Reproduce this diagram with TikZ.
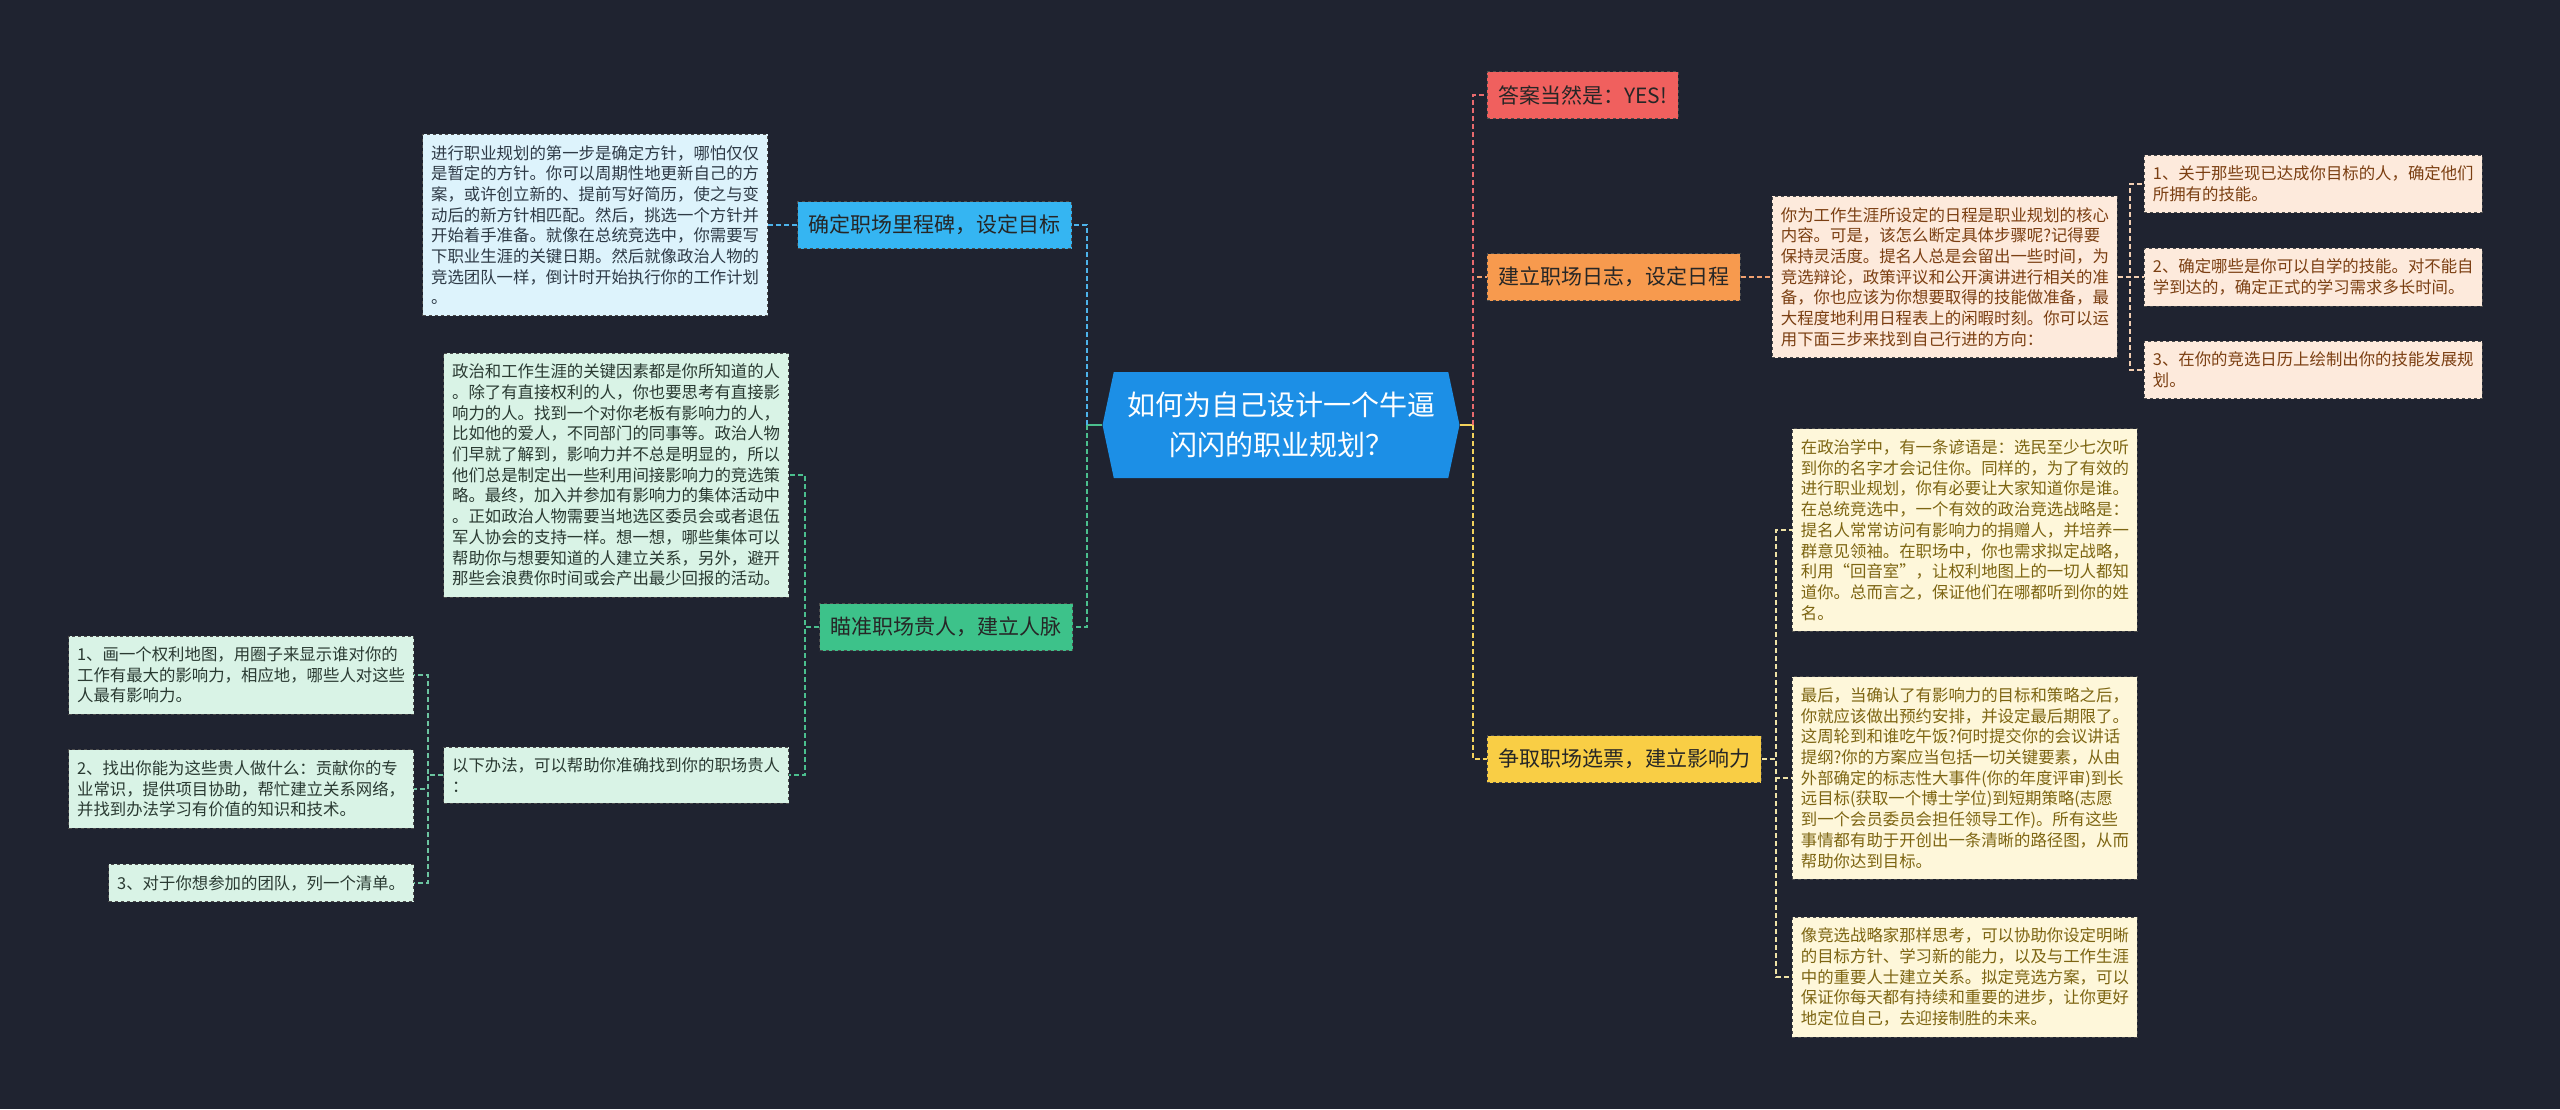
\documentclass[tikz,border=0pt]{standalone}
\usepackage{fontspec}
\setmainfont{Noto Sans CJK SC}
\usetikzlibrary{shapes.symbols}

\definecolor{bg}{HTML}{1F2330}
\definecolor{rootblue}{HTML}{1C8FE6}
\definecolor{tblue}{HTML}{35B5F2}
\definecolor{tgreen}{HTML}{3DC28A}
\definecolor{tred}{HTML}{F0605E}
\definecolor{torange}{HTML}{F79A4E}
\definecolor{tyellow}{HTML}{F9CE45}
\definecolor{nblue}{HTML}{DDF3FC}
\definecolor{ngreen}{HTML}{D9F3E6}
\definecolor{norange}{HTML}{FDEADC}
\definecolor{nyellow}{HTML}{FEF7DA}
\definecolor{txblue}{HTML}{2E3A46}
\definecolor{txgreen}{HTML}{2A3A32}
\definecolor{txorange}{HTML}{7B3F12}
\definecolor{txyellow}{HTML}{7D6512}
\definecolor{lblue}{HTML}{4DB3EA}
\definecolor{lgreen}{HTML}{4BBF8E}
\definecolor{lteal}{HTML}{6CC4A0}
\definecolor{lred}{HTML}{E86A6E}
\definecolor{lorange}{HTML}{F0A070}
\definecolor{lpeach}{HTML}{F3CFB2}
\definecolor{lyellow}{HTML}{F2D25C}
\definecolor{lpale}{HTML}{EEE2A6}

\begin{document}
\begin{tikzpicture}
	[x=1pt, y=-1pt,
	root/.style ={signal, signal to=west and east, signal pointer angle=156, fill=rootblue, text=white, minimum width=357pt, minimum height=106pt, align=center, font=\fontsize{28}{40}\selectfont},
	topic/.style ={rectangle, draw=black!70, dashed, line width=0.8pt, minimum height=47pt, inner xsep=11pt, text=black!85, font=\fontsize{21}{25}\selectfont},
	note/.style ={rectangle, draw=black!70, dashed, line width=0.8pt, inner xsep=8.5pt, inner ysep=10.8pt, align=left, font=\fontsize{16.4}{20.7}\selectfont},
	link/.style ={draw, dash pattern=on 5pt off 3pt, line width=1.6pt},
	stem/.style ={draw, line width=1.6pt}]
	\useasboundingbox (0, 0) rectangle (2560, 1109);
	\fill[bg] (0, 0) rectangle (2560, 1109);
	% centre
	\draw (1281, 425) node[root] (c) {如何为自己设计一个牛逼\\闪闪的职业规划？};
	\coordinate (lh) at (1087, 425);
	\coordinate (rh) at (1473, 425);
	% left side
	\draw (1072, 225) node[topic, fill=tblue, anchor=east] (ms) {确定职场里程碑，设定目标};
	\draw (768, 225) node[note, fill=nblue, text=txblue, anchor=east] (msn) {进行职业规划的第一步是确定方针，哪怕仅仅\\是暂定的方针。你可以周期性地更新自己的方\\案，或许创立新的、提前写好简历，使之与变\\动后的新方针相匹配。然后，挑选一个方针并\\开始着手准备。就像在总统竞选中，你需要写\\下职业生涯的关键日期。然后就像政治人物的\\竞选团队一样，倒计时开始执行你的工作计划\\。};
	\draw (1073, 627) node[topic, fill=tgreen, anchor=east] (pn) {瞄准职场贵人，建立人脉};
	\draw (789, 475) node[note, fill=ngreen, text=txgreen, anchor=east] (pn1) {政治和工作生涯的关键因素都是你所知道的人\\。除了有直接权利的人，你也要思考有直接影\\响力的人。找到一个对你老板有影响力的人，\\比如他的爱人，不同部门的同事等。政治人物\\们早就了解到，影响力并不总是明显的，所以\\他们总是制定出一些利用间接影响力的竞选策\\略。最终，加入并参加有影响力的集体活动中\\。正如政治人物需要当地选区委员会或者退伍\\军人协会的支持一样。想一想，哪些集体可以\\帮助你与想要知道的人建立关系，另外，避开\\那些会浪费你时间或会产出最少回报的活动。};
	\draw (789, 775) node[note, fill=ngreen, text=txgreen, anchor=east] (pn2) {以下办法，可以帮助你准确找到你的职场贵人\\：};
	\draw (414, 675) node[note, fill=ngreen, text=txgreen, anchor=east] (pa) {1、画一个权利地图，用圈子来显示谁对你的\\工作有最大的影响力，相应地，哪些人对这些\\人最有影响力。};
	\draw (414, 789) node[note, fill=ngreen, text=txgreen, anchor=east] (pb) {2、找出你能为这些贵人做什么：贡献你的专\\业常识，提供项目协助，帮忙建立关系网络，\\并找到办法学习有价值的知识和技术。};
	\draw (414, 883) node[note, fill=ngreen, text=txgreen, anchor=east] (pc) {3、对于你想参加的团队，列一个清单。};
	% right side
	\draw (1487, 95) node[topic, fill=tred, anchor=west] (yes) {答案当然是：YES!};
	\draw (1487, 277) node[topic, fill=torange, anchor=west] (lg) {建立职场日志，设定日程};
	\draw (1772, 277) node[note, fill=norange, text=txorange, anchor=west] (lgn) {你为工作生涯所设定的日程是职业规划的核心\\内容。可是，该怎么断定具体步骤呢?记得要\\保持灵活度。提名人总是会留出一些时间，为\\竞选辩论，政策评议和公开演讲进行相关的准\\备，你也应该为你想要取得的技能做准备，最\\大程度地利用日程表上的闲暇时刻。你可以运\\用下面三步来找到自己行进的方向：};
	\draw (2144, 184) node[note, fill=norange, text=txorange, anchor=west] (la) {1、关于那些现已达成你目标的人，确定他们\\所拥有的技能。};
	\draw (2144, 277) node[note, fill=norange, text=txorange, anchor=west] (lb) {2、确定哪些是你可以自学的技能。对不能自\\学到达的，确定正式的学习需求多长时间。};
	\draw (2144, 370) node[note, fill=norange, text=txorange, anchor=west] (lc) {3、在你的竞选日历上绘制出你的技能发展规\\划。};
	\draw (1487, 759) node[topic, fill=tyellow, anchor=west] (vt) {争取职场选票，建立影响力};
	\draw (1792, 530) node[note, fill=nyellow, text=txyellow, anchor=west] (vt1) {在政治学中，有一条谚语是：选民至少七次听\\到你的名字才会记住你。同样的，为了有效的\\进行职业规划，你有必要让大家知道你是谁。\\在总统竞选中，一个有效的政治竞选战略是：\\提名人常常访问有影响力的捐赠人，并培养一\\群意见领袖。在职场中，你也需求拟定战略，\\利用“回音室”，让权利地图上的一切人都知\\道你。总而言之，保证他们在哪都听到你的姓\\名。};
	\draw (1792, 778) node[note, fill=nyellow, text=txyellow, anchor=west] (vt2) {最后，当确认了有影响力的目标和策略之后，\\你就应该做出预约安排，并设定最后期限了。\\这周轮到和谁吃午饭?何时提交你的会议讲话\\提纲?你的方案应当包括一切关键要素，从由\\外部确定的标志性大事件(你的年度评审)到长\\远目标(获取一个博士学位)到短期策略(志愿\\到一个会员委员会担任领导工作)。所有这些\\事情都有助于开创出一条清晰的路径图，从而\\帮助你达到目标。};
	\draw (1792, 977) node[note, fill=nyellow, text=txyellow, anchor=west] (vt3) {像竞选战略家那样思考，可以协助你设定明晰\\的目标方针、学习新的能力，以及与工作生涯\\中的重要人士建立关系。拟定竞选方案，可以\\保证你每天都有持续和重要的进步，让你更好\\地定位自己，去迎接制胜的未来。};
	% connectors
	\draw[stem, lgreen] (c.west) -- (lh);
	\draw[link, lblue] (lh) |- (ms.east);
	\draw[link, lgreen] (lh) |- (pn.east);
	\draw[link, lblue] (ms.west) -- (msn.east);
	\draw[link, lgreen] (pn.west) -- ++(-14, 0) |- (pn1.east);
	\draw[link, lgreen] (pn.west) -- ++(-14, 0) |- (pn2.east);
	\draw[link, lteal] (pn2.west) -- ++(-15, 0) |- (pa.east);
	\draw[link, lteal] (pn2.west) -- ++(-15, 0) |- (pb.east);
	\draw[link, lteal] (pn2.west) -- ++(-15, 0) |- (pc.east);
	\draw[stem, lyellow] (c.east) -- (rh);
	\draw[link, lyellow] (rh) |- (vt.west);
	\draw[link, lorange] (rh) |- (lg.west);
	\draw[link, lred] (rh) |- (yes.west);
	\draw[link, lorange] (lg.east) -- (lgn.west);
	\draw[link, lpeach] (lgn.east) -- ++(12, 0) |- (la.west);
	\draw[link, lpeach] (lgn.east) -- ++(12, 0) |- (lb.west);
	\draw[link, lpeach] (lgn.east) -- ++(12, 0) |- (lc.west);
	\draw[link, lpale] (vt.east) -- ++(14, 0) |- (vt1.west);
	\draw[link, lpale] (vt.east) -- ++(14, 0) |- (vt2.west);
	\draw[link, lpale] (vt.east) -- ++(14, 0) |- (vt3.west);
\end{tikzpicture}
\end{document}
